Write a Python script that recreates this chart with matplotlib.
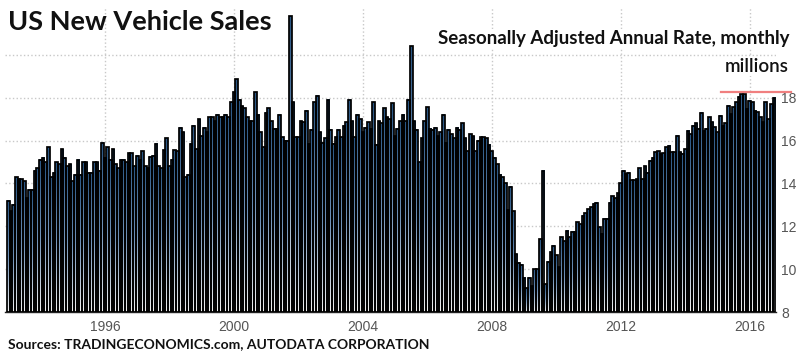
"""US new vehicle sales, seasonally adjusted annual rate, monthly bars 1993-2016.

Bars get a vertical blue-to-white gradient each (imshow clipped to the bar
extent) with a black outline drawn on top, like the original TE chart.
"""
import matplotlib

matplotlib.use("Agg")
import matplotlib.pyplot as plt
import numpy as np
from matplotlib.colors import LinearSegmentedColormap

FIRST_YEAR = 1993
BASE = 8  # bars start at the bottom of the value axis

# monthly SAAR, millions of units
sales_1993 = [13.2, 12.7, 13.0, 14.3, 14.2, 14.2, 14.1, 13.3, 13.7, 13.7, 14.6, 14.7]
sales_1994 = [15.1, 15.2, 15.0, 15.7, 14.3, 14.5, 15.0, 14.9, 15.6, 15.2, 14.8, 14.9]
sales_1995 = [14.1, 14.4, 15.1, 14.4, 15.0, 15.0, 14.5, 14.5, 15.0, 15.0, 14.6, 15.9]
sales_1996 = [15.2, 15.7, 15.1, 15.6, 14.9, 14.7, 15.1, 15.1, 15.0, 15.4, 15.4, 14.8]
sales_1997 = [15.3, 15.1, 15.5, 14.8, 14.7, 15.25, 15.3, 15.85, 14.8, 14.7, 15.55, 16.1]
sales_1998 = [14.8, 15.1, 15.55, 15.5, 16.6, 16.4, 14.3, 14.4, 15.85, 16.7, 15.6, 17.0]
sales_1999 = [16.2, 16.6, 16.4, 17.1, 17.1, 16.9, 17.2, 17.1, 17.1, 17.2, 17.1, 17.8]
sales_2000 = [18.25, 18.87, 17.9, 17.6, 17.5, 17.1, 16.9, 16.9, 18.25, 17.2, 16.4, 15.7]
sales_2001 = [17.3, 17.5, 16.9, 16.55, 16.55, 17.2, 16.15, 16.0, 16.0, 21.8, 17.8, 16.15]
sales_2002 = [16.15, 16.9, 16.85, 17.4, 15.85, 16.5, 17.8, 18.1, 16.4, 15.9, 16.1, 17.9]
sales_2003 = [16.5, 15.85, 16.15, 16.5, 16.15, 16.7, 16.85, 17.9, 16.9, 16.15, 17.2, 17.0]
sales_2004 = [16.4, 16.6, 16.85, 16.55, 17.8, 15.8, 16.9, 16.8, 17.5, 17.1, 17.0, 17.75]
sales_2005 = [16.2, 16.55, 16.9, 17.2, 16.9, 17.9, 20.4, 16.9, 16.5, 15.0, 16.1, 16.9]
sales_2006 = [17.55, 16.55, 16.5, 16.6, 16.2, 16.4, 17.2, 15.9, 16.5, 16.3, 16.1, 16.6]
sales_2007 = [16.5, 16.8, 16.1, 15.5, 16.3, 16.2, 15.5, 16.0, 16.15, 16.15, 16.1, 15.8]
sales_2008 = [15.5, 15.2, 14.9, 14.4, 14.3, 14.0, 12.75, 13.85, 12.7, 10.7, 10.3, 10.2]
sales_2009 = [9.6, 9.1, 9.6, 9.2, 10.0, 10.0, 11.4, 14.6, 9.3, 10.35, 10.8, 11.1]
sales_2010 = [10.65, 10.1, 11.5, 11.3, 11.8, 11.5, 11.75, 11.75, 12.2, 12.1, 12.5, 12.6]
sales_2011 = [12.8, 12.9, 13.05, 13.1, 11.95, 11.65, 12.35, 12.35, 13.1, 13.4, 13.3, 13.55]
sales_2012 = [14.0, 14.6, 14.45, 14.5, 14.15, 14.15, 14.2, 14.7, 14.2, 14.8, 14.5, 15.07]
sales_2013 = [15.2, 15.45, 15.5, 15.38, 15.4, 15.7, 15.77, 15.45, 15.45, 16.22, 15.45, 15.38]
sales_2014 = [15.6, 16.45, 16.3, 16.7, 16.8, 16.55, 17.3, 16.45, 16.55, 17.08, 16.85, 16.62]
sales_2015 = [16.4, 17.16, 16.7, 16.8, 17.63, 17.24, 17.55, 17.8, 18.05, 18.17, 18.17, 17.48]
sales_2016 = [17.86, 17.8, 17.4, 17.33, 17.08, 16.85, 17.8, 17.0, 17.7, 18.0]

year_ticks = [1996, 2000, 2004, 2008, 2012, 2016]
value_ticks = [8, 10, 12, 14, 16, 18, 20]
value_labels = ["8", "10", "12", "14", "16", "18", ""]

recent_high = 18.25
recent_high_span = (2015.1, 2017.28)

TITLE = "US New Vehicle Sales"
SUBTITLE = "Seasonally Adjusted Annual Rate, monthly"
UNITS = "millions"
SOURCE = "Sources: TRADINGECONOMICS.com, AUTODATA CORPORATION"

W, H = 800, 354


def fx(px):
    return px / W


def fy(py):
    return 1 - py / H


sales = np.array(
    sales_1993 + sales_1994 + sales_1995 + sales_1996 + sales_1997 + sales_1998
    + sales_1999 + sales_2000 + sales_2001 + sales_2002 + sales_2003 + sales_2004
    + sales_2005 + sales_2006 + sales_2007 + sales_2008 + sales_2009 + sales_2010
    + sales_2011 + sales_2012 + sales_2013 + sales_2014 + sales_2015 + sales_2016
)
dates = FIRST_YEAR + np.arange(len(sales)) / 12.0

fig = plt.figure(figsize=(W / 100, H / 100), dpi=100)
ax = fig.add_axes([fx(5), 1 - 312 / H, 770.5 / W, (312 - 7.8) / H])

cmap = LinearSegmentedColormap.from_list("bar", ["#2a5683", "#6f92b9", "#f0f0f0"])
grad = np.linspace(0, 1, 64).reshape(-1, 1)
width = 1 / 12.0

# gradient fill per bar, top -> bottom
for t, v in zip(dates, sales):
    ax.imshow(grad, cmap=cmap, extent=(t - width / 2, t + width / 2, BASE, v),
              aspect="auto", interpolation="bilinear", zorder=2)
ax.bar(dates, sales - BASE, bottom=BASE, width=width, facecolor="none",
       edgecolor="black", linewidth=1.25, zorder=3)

ax.plot(recent_high_span, [recent_high, recent_high], color="#f07f7f", lw=1.6,
        clip_on=False, zorder=4)

ax.set_xlim(1992.90, 2016.80)
ax.set_ylim(BASE, 22.2)
ax.set_xticks(year_ticks)
ax.set_xticklabels([str(y) for y in year_ticks])
ax.set_yticks(value_ticks)
ax.set_yticklabels(value_labels)
ax.yaxis.tick_right()
ax.tick_params(axis="both", length=0, colors="#555555", labelsize=10)
ax.tick_params(axis="x", pad=6)
ax.tick_params(axis="y", pad=4)
for lab in ax.get_xticklabels() + ax.get_yticklabels():
    lab.set_fontfamily(["Liberation Sans", "DejaVu Sans"])

ax.grid(True, color="#c8c8c8", linestyle=":", linewidth=1.0, zorder=0)
ax.set_axisbelow(True)
for side in ("top", "left", "right"):
    ax.spines[side].set_visible(False)
ax.spines["bottom"].set_color("#222222")
ax.spines["bottom"].set_linewidth(1.0)

font = ["Lato", "DejaVu Sans"]
fig.text(fx(8), fy(30), TITLE, fontsize=19.5, fontweight="bold", family=font,
         color="#111111", va="baseline", ha="left")
fig.text(fx(789), fy(44), SUBTITLE, fontsize=13.5, fontweight="bold", family=font,
         color="#111111", va="baseline", ha="right",
         bbox=dict(facecolor="white", edgecolor="none", pad=1))
fig.text(fx(789), fy(72), UNITS, fontsize=13.5, fontweight="semibold", family=font,
         color="#111111", va="baseline", ha="right",
         bbox=dict(facecolor="white", edgecolor="none", pad=1))
fig.text(fx(8), fy(348), SOURCE, fontsize=10, fontweight="bold", family=font,
         color="#111111", va="baseline", ha="left")

fig.savefig("out.png", dpi=100)
